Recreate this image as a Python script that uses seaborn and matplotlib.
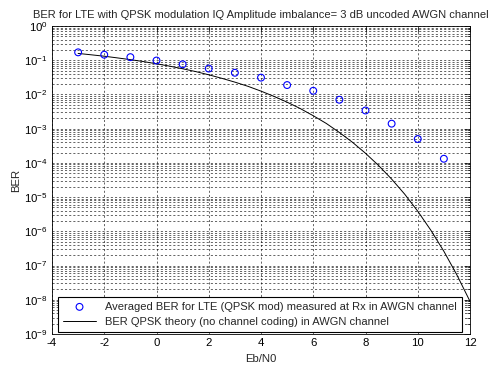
import numpy as np
import pandas as pd
import matplotlib
matplotlib.use("Agg")
import matplotlib.pyplot as plt
import seaborn as sns

# Measured (simulated) BER points
ebn0_meas = [-3, -2, -1, 0, 1, 2, 3, 4, 5, 6, 7, 8, 9, 10, 11]
ber_meas = [0.17, 0.145, 0.123, 0.098, 0.076, 0.057, 0.043, 0.031, 0.0188,
            0.0128, 0.0070, 0.0034, 0.0014, 0.00050, 0.000132]

# Theoretical QPSK curve
ebn0_theory = [-3, -2.5, -2, -1.5, -1, -0.5, 0, 0.5, 1, 1.5, 2, 2.5, 3, 3.5, 4,
               4.5, 5, 5.5, 6, 6.5, 7, 7.5, 8, 8.5, 9, 9.5, 10, 10.5, 11, 11.5, 12]
ber_theory = [0.158, 0.144, 0.131, 0.117, 0.104, 0.0913, 0.0786, 0.0672, 0.0563,
              0.0466, 0.0375, 0.0296, 0.0229, 0.0173, 0.0125, 0.00876, 0.00595,
              0.00388, 0.00239, 0.00142, 0.000773, 0.000401, 0.000191, 8.4e-5,
              3.36e-5, 1.22e-5, 3.87e-6, 1.08e-6, 2.61e-7, 5.3e-8, 9.0e-9]

xticks = [-4, -2, 0, 2, 4, 6, 8, 10, 12]
yexps = list(range(-9, 1))

title = "BER for LTE with QPSK modulation IQ Amplitude imbalance= 3 dB uncoded AWGN channel"
label_meas = "Averaged BER for LTE (QPSK mod) measured at Rx in AWGN channel"
label_theory = "BER QPSK theory (no channel coding) in AWGN channel"

sns.set_theme(style="white")
plt.rcParams['font.family'] = ['Liberation Sans', 'DejaVu Sans']
plt.rcParams['mathtext.fontset'] = 'custom'
plt.rcParams['mathtext.rm'] = 'Liberation Sans'
plt.rcParams['mathtext.it'] = 'Liberation Sans'
plt.rcParams['mathtext.default'] = 'regular'

df_m = pd.DataFrame({"x": ebn0_meas, "y": ber_meas})
df_t = pd.DataFrame({"x": ebn0_theory, "y": ber_theory})

fig = plt.figure(figsize=(4.9, 3.7), dpi=100)
ax = fig.add_axes([52/490, 1 - 334/370, (470-52)/490, (334-26)/370])

sns.scatterplot(data=df_m, x="x", y="y", ax=ax, marker="o", s=24,
                facecolor="none", edgecolor="blue", linewidth=0.8,
                label=label_meas, zorder=3)
sns.lineplot(data=df_t, x="x", y="y", ax=ax, color="black", linewidth=0.7,
             label=label_theory, zorder=2)

ax.set_yscale("log")
ax.set_xlim(-4, 12)
ax.set_ylim(1e-9, 1)
ax.set_xticks(xticks)
ax.set_xticklabels([str(t) for t in xticks])
ax.set_yticks([10.0**e for e in yexps])
ax.set_yticklabels([f"$10^{{{e}}}$" for e in yexps])
ax.yaxis.set_minor_locator(matplotlib.ticker.LogLocator(base=10, subs=np.arange(2, 10), numticks=20))
ax.yaxis.set_minor_formatter(matplotlib.ticker.NullFormatter())

gridkw = dict(color="black", linestyle=(0, (3, 3)), linewidth=0.5, alpha=0.85)
ax.grid(True, which="major", axis="both", **gridkw)
ax.grid(True, which="minor", axis="y", **gridkw)

ax.tick_params(axis="both", which="both", direction="in", top=True, right=True,
               labelsize=8.2, colors="black", length=4, width=0.5, pad=3)
ax.tick_params(axis="y", which="minor", length=2)
for s in ax.spines.values():
    s.set_color("black")
    s.set_linewidth(0.6)

ax.set_xlabel("Eb/N0", fontsize=8.2, labelpad=4)
ax.set_ylabel("BER", fontsize=8.2)
ax.yaxis.set_label_coords(-0.075, 0.5)
ax.set_title(title, fontsize=8.0, pad=6)

leg = ax.legend(loc="lower left", fontsize=8.0, frameon=True, fancybox=False,
                edgecolor="black", framealpha=1, borderaxespad=0.15,
                handlelength=3, borderpad=0.45, labelspacing=0.5,
                bbox_to_anchor=(0.01, 0.0))
leg.get_frame().set_linewidth(0.8)

fig.savefig("out.png", dpi=100, facecolor="white")
